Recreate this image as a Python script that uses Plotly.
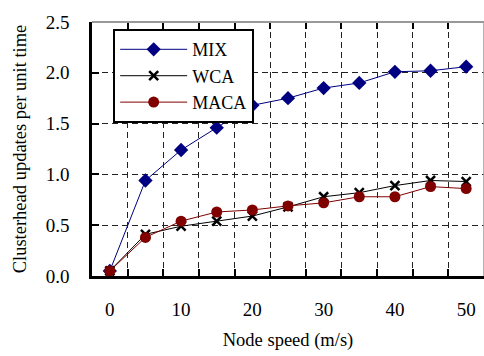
import plotly.graph_objects as go

speeds = [0, 5, 10, 15, 20, 25, 30, 35, 40, 45, 50]
mix = [0.05, 0.94, 1.24, 1.46, 1.68, 1.75, 1.85, 1.90, 2.01, 2.02, 2.06]
wca = [0.05, 0.41, 0.49, 0.54, 0.59, 0.68, 0.78, 0.82, 0.89, 0.94, 0.93]
maca = [0.05, 0.38, 0.54, 0.63, 0.65, 0.69, 0.72, 0.78, 0.78, 0.88, 0.86]
x_ticks = [0, 10, 20, 30, 40, 50]
x_grid = [2.5, 7.5, 12.5, 17.5, 22.5, 27.5, 32.5, 37.5, 42.5, 47.5]
y_ticks = [0.0, 0.5, 1.0, 1.5, 2.0, 2.5]

FONT = "Liberation Serif"

fig = go.Figure()
fig.add_trace(go.Scatter(x=speeds, y=mix, name="MIX", mode="lines+markers",
                         line=dict(color="#000080", width=1),
                         marker=dict(symbol="diamond", size=11, color="#000080"),
                         legendgroup="a"))
fig.add_trace(go.Scatter(x=speeds, y=wca, name="WCA", mode="lines+markers",
                         line=dict(color="#000000", width=1),
                         marker=dict(symbol="x-thin", size=9, color="#000000",
                                     line=dict(width=2.5, color="#000000")),
                         legendgroup="b"))
fig.add_trace(go.Scatter(x=speeds, y=maca, name="MACA", mode="lines+markers",
                         line=dict(color="#800000", width=1),
                         marker=dict(symbol="circle", size=11, color="#800000"),
                         legendgroup="c"))
# invisible trace on second x axis to carry the vertical gridlines
fig.add_trace(go.Scatter(x=[x_grid[0]], y=[None], xaxis="x2", showlegend=False,
                         hoverinfo="skip"))

fig.update_layout(
    width=484, height=356,
    margin=dict(l=92, r=0, t=22, b=80),
    paper_bgcolor="white", plot_bgcolor="white",
    font=dict(family=FONT, color="black"),
    xaxis=dict(range=[-2.5, 52.5], tickvals=x_ticks, ticks="", showgrid=False,
               showline=True, linecolor="black", linewidth=2.5, zeroline=False,
               tickfont=dict(size=19, family=FONT), ticklabelstandoff=14, automargin=False,
               title=dict(text="Node speed (m/s)", font=dict(size=18.5, family=FONT))),
    xaxis2=dict(range=[-2.5, 52.5], overlaying="x", tickvals=x_grid,
                showticklabels=False, ticks="inside", ticklen=7, tickcolor="black",
                tickwidth=1.5, mirror="ticks", showgrid=True, gridcolor="#222",
                griddash="6px,4px", gridwidth=1, showline=False, zeroline=False,
                side="bottom", layer="below traces", automargin=False),
    yaxis=dict(range=[0, 2.5], tickvals=y_ticks, tickformat=".1f", ticks="inside",
               ticklen=7, tickcolor="black", tickwidth=1.5,
               showgrid=True, gridcolor="#222", griddash="6px,4px", gridwidth=1,
               showline=True, linecolor="black", linewidth=2.5, zeroline=False,
               tickfont=dict(size=19, family=FONT), ticklabelstandoff=16, automargin=False,
               title=dict(text="Clusterhead updates per unit time",
                          font=dict(size=18.5, family=FONT))),
    legend=dict(x=0.054, y=0.972, xanchor="left", yanchor="top",
                bgcolor="white", bordercolor="black", borderwidth=2,
                font=dict(size=18, family=FONT), tracegroupgap=0,
                itemwidth=67),
    shapes=[
        dict(type="line", xref="paper", yref="paper", x0=0, x1=1, y0=1, y1=1,
             line=dict(color="#999999", width=2), layer="above"),
        dict(type="line", xref="paper", yref="paper", x0=1, x1=1, y0=0, y1=1,
             line=dict(color="#999999", width=1.5), layer="above"),
    ],
)

fig.write_html("out.html", config={"displayModeBar": False},
               post_script="document.body.style.margin='0';")
